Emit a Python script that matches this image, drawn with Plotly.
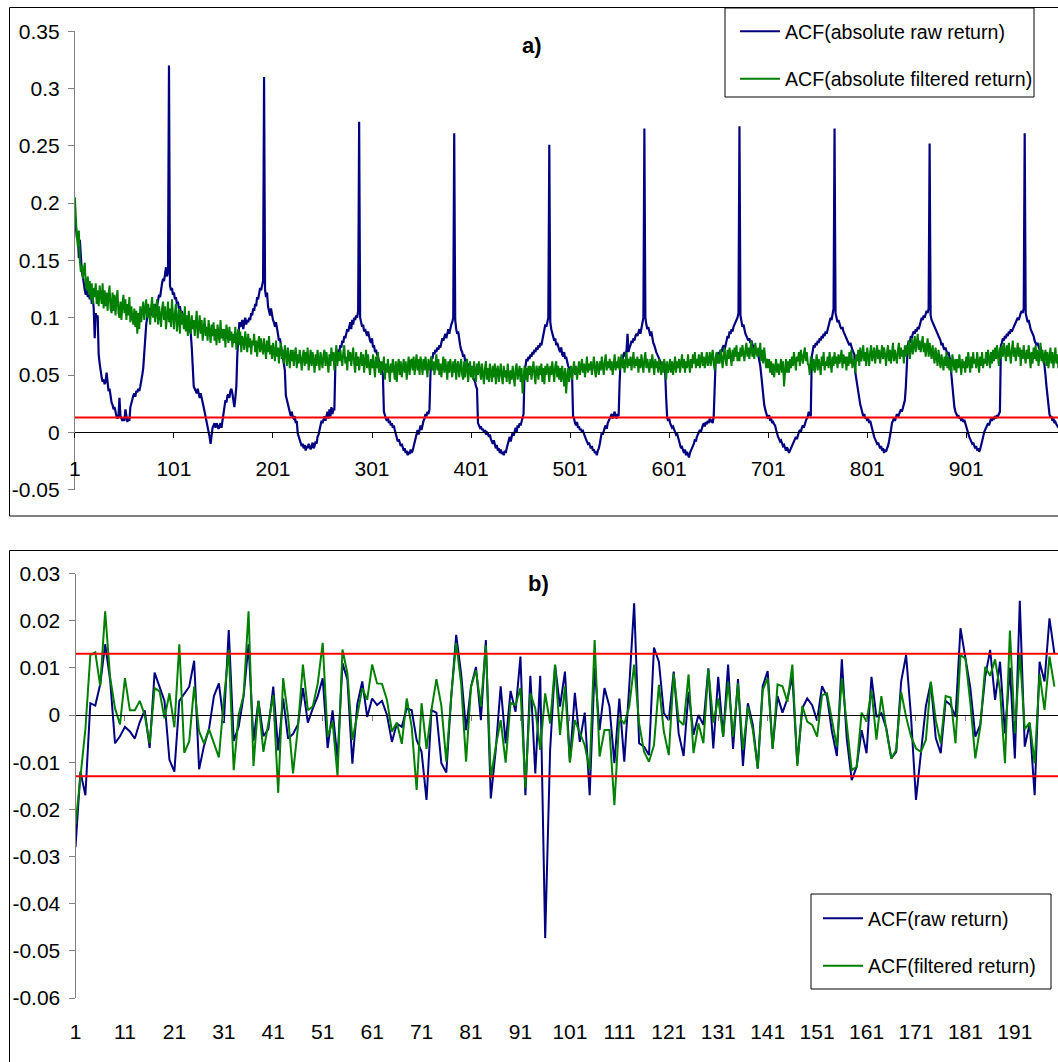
import plotly.graph_objects as go

# ---------------- panel a) : ACF of absolute returns, lags 1..994 (values in 1/1000) -------------
abs_raw_milli = [
    # lags 1-96
    188,178,170,172,152,168,150,140,136,128,
    124,120,126,118,122,116,128,112,118,108,
    82,104,100,102,
    68,60,52,48,44,46,
    42,44,52,40,36,38,30,26,24,20,
    22,16,14,12,14,30,14,12,10,13,
    10,20,12,9,12,10,22,26,30,32,
    34,31,36,35,38,36,40,44,50,56,
    70,86,94,100,104,108,106,102,110,104,
    108,112,106,110,114,120,118,126,130,134,
    132,138,144,136,140,320,
    # lags 97-192
    128,124,126,120,122,116,118,112,114,108,
    110,104,106,100,102,98,96,100,92,94,
    90,86,74,56,40,38,
    36,34,38,32,30,34,28,26,22,18,
    13,10,6,2,-4,-10,-2,4,6,8,
    4,8,6,3,5,8,4,10,20,24,
    28,26,32,33,30,36,38,34,26,22,
    30,40,68,84,
    96,92,94,98,90,96,100,94,98,96,
    100,98,104,102,108,106,112,110,118,116,
    122,126,124,128,132,310,
    # lags 193-288
    124,118,122,110,106,102,108,100,98,96,
    92,96,88,86,80,82,76,70,66,58,
    54,32,28,24,22,16,14,18,13,12,
    14,8,10,-1,-4,-6,-8,-12,-10,-14,
    -11,-16,-12,-14,-10,-13,-15,-12,-9,-14,
    -12,-8,-10,-4,-2,2,6,10,8,12,
    14,10,16,18,12,20,14,22,16,20,
    20,60,
    68,64,72,70,76,74,80,78,84,82,
    86,90,88,92,96,90,98,94,100,98,
    102,100,106,271,
    # lags 289-384
    100,96,92,94,88,90,86,84,88,82,
    80,78,82,74,76,70,72,68,66,62,
    58,60,54,50,18,
    14,12,10,13,8,10,6,8,4,6,
    2,-2,-4,-8,-6,-10,-12,-10,-14,-16,
    -14,-18,-16,-20,-17,-19,-15,-18,-16,-12,
    -8,-4,0,2,-2,4,6,2,8,10,
    12,16,14,18,16,20,
    50,
    66,64,70,68,72,70,74,72,76,74,
    78,82,80,84,86,82,88,90,86,92,
    94,96,100,261,
    # lags 385-480
    98,90,86,88,80,76,72,70,66,68,
    62,64,58,60,56,54,52,50,48,46,
    44,40,38,8,
    6,4,5,2,3,0,2,-2,0,-1,-4,-2,
    -6,-8,-10,-7,-12,-14,-11,-16,-14,-18,-15,-19,-17,-20,-16,-18,-14,
    -10,-6,-4,-8,-2,0,-3,2,4,0,6,4,8,6,
    10,14,16,
    52,
    60,64,62,66,64,68,66,70,68,72,70,74,72,76,74,78,76,80,
    86,90,94,92,98,100,
    251,
    # lags 481-576
    96,90,86,84,80,82,76,78,74,72,
    70,74,68,66,70,64,66,60,58,56,
    54,52,50,
    14,12,
    8,6,9,4,5,2,3,0,1,-2,-4,
    -6,-8,-10,-9,-12,-14,-12,-16,-15,-18,-17,-20,-16,-14,-10,
    -4,0,-2,2,4,6,3,8,10,12,
    14,16,12,15,18,14,12,16,14,
    44,
    62,66,64,68,70,66,72,86,70,74,
    76,80,78,82,80,84,86,84,88,90,86,92,
    96,100,
    265,
    # lags 577-672
    100,94,90,92,86,84,88,80,78,76,
    72,70,68,66,64,62,60,58,56,54,
    52,30,
    13,10,12,8,6,4,5,2,0,-2,-1,-4,
    -8,-12,-14,-13,-16,-18,-15,-20,-17,-19,-22,-18,-16,-14,
    -12,-10,-6,-8,-4,-2,0,2,0,4,
    6,8,5,9,7,10,8,12,9,10,8,14,
    44,
    64,68,66,70,68,72,70,74,76,72,78,
    80,84,82,88,86,90,88,92,94,96,98,100,
    104,267,
    # lags 673-768
    102,96,92,94,88,86,84,82,80,82,
    78,80,76,74,76,72,70,72,68,64,
    58,50,40,30,24,20,
    16,14,12,15,10,12,8,9,7,6,
    2,-2,-4,-6,-8,-7,-10,-12,-11,-14,-16,-13,-15,-18,-16,-14,-12,-10,
    -8,-6,-4,-6,-2,0,2,0,4,6,4,8,10,12,14,18,16,14,
    66,
    72,76,74,78,76,80,78,82,80,84,82,86,84,88,86,90,
    94,96,100,98,104,108,
    265,
    # lags 769-864
    104,100,96,98,94,92,90,92,88,86,
    84,82,80,78,76,78,74,72,70,68,
    52,46,40,34,28,24,21,
    16,14,16,12,13,10,12,8,10,6,
    2,-2,-4,-6,-8,-10,-9,-12,-14,-12,-16,-14,-18,-15,-17,-14,-12,-8,-4,2,
    8,10,12,10,14,16,13,16,18,20,18,22,24,
    28,40,60,
    76,80,78,84,82,86,88,86,90,88,92,90,93,
    96,100,98,102,100,104,106,104,108,
    252,
    # lags 865-960
    102,98,96,94,92,90,88,86,84,82,
    80,76,78,74,72,74,70,68,70,66,
    62,50,40,30,22,18,
    16,14,15,12,13,10,12,9,11,8,
    4,0,-2,-4,-6,-8,-10,-9,-12,-14,-12,-16,-14,-17,-15,-12,-8,-4,
    0,2,4,6,8,6,10,12,10,13,12,14,12,15,14,16,18,
    76,
    78,82,80,84,82,86,84,88,86,90,88,90,92,94,96,
    98,100,98,102,104,106,104,108,
    261,
    # lags 961-994
    104,100,96,98,92,90,88,86,84,
    80,78,76,78,74,72,74,70,68,66,
    60,50,40,30,24,
    16,13,14,10,12,8,9,7,5,4,
]

abs_filt_milli = [
    205,184,170,162,176,150,140,146,134,142, 148,128,124,136,120,132,116,130,112,126,
    118,130,112,124,110,128,118,112,130,108, 124,110,122,106,120,128,108,104,122,106,
    120,102,116,124,104,100,114,98,112,120, 104,116,98,112,102,118,96,110,100,94,
    108,92,106,86,104,90,110,96,106,114, 98,110,116,100,112,104,94,110,118,100,
    112,96,106,116,94,110,102,92,108,114, 98,110,90,104,114,96,108,92,116,102,
    90,104,112,88,100,108,86,106,94,104, 90,110,88,102,84,106,92,86,102,90,
    98,84,96,106,82,94,102,86,98,80, 94,100,84,92,80,98,88,78,94,84,
    96,80,90,76,94,86,78,98,82,90, 80,90,74,94,84,78,92,80,88,74,
    86,78,92,72,84,90,76,88,70,84, 80,72,88,78,70,86,74,82,68,80,
    76,86,70,80,66,78,84,70,82,74, 68,82,74,64,80,70,84,68,76,64,
    78,70,62,80,66,74,60,72,78,64, 72,60,76,68,58,74,66,56,72,62,
    72,58,68,74,56,68,60,72,64,54, 66,72,58,70,60,74,54,66,72,58,
    70,62,52,68,58,72,62,54,70,60, 56,68,72,58,70,62,52,68,58,74,
    62,70,54,66,76,58,70,62,72,64, 58,70,76,60,66,54,72,62,70,58,
    66,74,60,52,70,58,66,54,62,70, 58,68,52,64,72,56,68,58,50,64,
    56,68,60,48,66,56,70,52,62,50, 62,54,66,46,60,52,64,54,44,60,
    52,64,56,46,62,44,58,64,50,62, 48,58,64,52,62,46,58,66,50,62,
    64,54,66,50,60,68,54,64,50,66, 60,50,64,54,66,58,48,64,54,60,
    66,54,62,50,60,68,54,64,50,60, 48,62,66,52,64,56,46,62,52,64,
    58,48,62,52,64,46,58,62,48,58, 64,50,46,62,48,58,64,44,54,62,
    48,58,46,62,54,44,60,50,62,52, 46,60,50,42,56,62,46,56,44,60,
    52,44,58,48,60,42,54,58,44,54, 60,48,42,58,48,54,44,60,50,42,
    54,46,58,50,40,56,60,46,52,58, 44,56,34,52,58,46,56,44,58,50,
    58,46,54,62,50,42,58,54,46,58, 50,60,44,56,42,58,50,60,54,44,
    58,50,62,54,44,58,62,48,58,46, 56,44,58,50,40,56,34,48,56,44,
    52,58,46,56,62,50,58,46,54,62, 50,58,64,52,60,48,58,66,52,60,
    54,62,50,58,66,54,48,62,58,50, 62,54,66,58,50,62,68,54,62,56,
    64,54,62,50,58,68,54,62,56,66, 54,62,68,56,64,52,60,70,56,64,
    58,66,54,62,70,56,64,58,66,52, 64,56,68,60,52,64,70,56,64,58,
    52,64,56,68,60,50,64,56,62,52, 64,56,50,62,52,64,58,46,62,52,
    56,64,52,62,50,58,66,52,62,56, 64,52,60,68,56,64,52,62,56,68,
    60,52,64,56,68,60,70,56,64,58, 68,56,64,70,58,66,56,64,70,58,
    62,70,58,66,72,60,54,66,70,60, 68,60,72,64,56,68,74,62,58,72,
    64,74,66,58,72,62,74,66,76,62, 70,62,74,66,76,68,62,72,78,66,
    74,64,72,80,66,74,64,78,70,66, 74,66,78,62,72,60,74,66,56,64,
    56,64,52,62,50,60,48,56,64,52, 60,50,58,64,52,62,40,56,64,52,
    62,52,64,56,66,58,70,62,54,66, 62,70,58,72,64,60,68,74,62,70,
    60,58,50,66,58,54,64,52,60,68, 54,64,58,50,66,58,70,54,62,58,
    66,56,70,60,52,66,58,70,60,66, 56,68,60,64,72,56,68,60,66,54,
    66,58,70,60,72,56,64,62,52,68, 62,72,58,74,62,68,76,62,70,58,
    74,66,58,70,76,62,70,74,60,70, 76,64,72,60,70,76,64,74,68,58,
    70,76,62,72,60,70,78,62,72,66, 60,72,78,64,74,66,72,60,76,66,
    76,68,80,64,74,82,68,76,84,70, 78,86,72,80,70,78,84,70,78,66,
    76,82,66,78,70,64,76,68,60,74, 66,58,72,62,56,68,60,54,66,58,
    70,56,66,54,64,52,68,60,54,64, 52,64,56,68,60,50,64,56,62,52,
    66,56,70,60,52,66,56,70,60,64, 56,70,60,52,66,58,70,56,64,60,
    70,58,72,64,56,70,60,72,62,74, 64,76,66,58,74,64,76,66,78,70,
    62,76,66,78,70,60,72,80,66,74, 62,72,78,66,74,58,72,64,76,66,
    60,72,64,76,68,56,70,60,74,64, 76,62,72,58,68,78,62,72,60,68,
    72,58,70,56,66,74,60,70,56,66, 74,60,68,56,
]

# ---------------- panel b) : ACF of returns, lags 1..199 ----------------
acf_raw = [
    -0.028, -0.012, -0.017, 0.0025, 0.002, 0.0065, 0.015, 0.0075, -0.006, -0.0045,
    -0.0025, -0.0035, -0.005, -0.0015, 0.001, -0.007, 0.009, 0.006, 0.003, -0.0095,
    -0.012, 0.003, 0.0045, 0.006, 0.0115, -0.0115, -0.0065, -0.003, 0.004, 0.0067,
    -0.0017, 0.018, -0.0055, -0.0025, 0.004, 0.015, -0.0055, 0.003, -0.0045, -0.003,
    0.006, -0.0075, 0.0035, -0.005, -0.004, -0.002, 0.0057, -0.0016, 0.0014, 0.004,
    0.0078, -0.007, 0.001, -0.0094, 0.011, 0.0075, -0.0103, 0.0023, 0.0071, -0.0004,
    0.0035, 0.0021, 0.003, 0.0, -0.0057, -0.0018, -0.0025, 0.0014, 0.001, -0.0053,
    -0.0078, -0.018, 0.001, 0.0005, -0.0102, -0.0122, 0.0039, 0.017, 0.0088, -0.0032,
    0.006, 0.0102, -0.0011, 0.0159, -0.0177, -0.0074, 0.0061, -0.006, 0.0051, 0.0007,
    0.0124, -0.017, 0.0083, -0.0124, 0.0083, -0.0473, -0.0074, 0.0106, 0.0018, 0.0092,
    -0.0099, 0.0047, -0.0057, 0.0005, -0.017, 0.010, -0.0032, 0.0057, 0.0018, -0.0102,
    0.0035, -0.0099, 0.006, 0.0237, -0.006, -0.0067, -0.0085, 0.0143, 0.0113, 0.0004,
    -0.0011, 0.0092, -0.0039, -0.0087, 0.0049, -0.0042, 0.0, -0.0021, 0.0099, -0.0071,
    0.0081, -0.0046, 0.0107, -0.0072, 0.0076, -0.0108, 0.0025, -0.0021, -0.0113, 0.0061,
    0.0093, -0.0071, 0.004, 0.0005, 0.0035, 0.0081, -0.0104, 0.0014, 0.0035, 0.0021,
    -0.0012, 0.0061, 0.0039, -0.0035, -0.0087, 0.0118, -0.005, -0.0138, -0.011, -0.0032,
    -0.0081, 0.0081, -0.0004, 0.0004, -0.0028, -0.0092, -0.0078, 0.0071, 0.0127, -0.0004,
    -0.018, -0.0074, 0.0019, 0.0069, -0.0049, -0.0081, 0.003, 0.0021, -0.0004, 0.0184,
    0.012, 0.0057, -0.0046, -0.0021, 0.0081, 0.0138, 0.0032, 0.0113, -0.0039, 0.010,
    -0.0092, 0.0242, -0.0067, -0.0018, -0.017, 0.0113, 0.0071, 0.0205, 0.013,
]
acf_filt = [
    -0.0233, -0.0124, -0.003, 0.0127, 0.0133, 0.0062, 0.022, 0.008, 0.0014, -0.002,
    0.0078, 0.001, 0.001, 0.003, 0.0, -0.006, 0.0057, 0.005, -0.0007, 0.0046,
    -0.0026, 0.015, -0.008, -0.0056, 0.006, -0.0035, -0.006, -0.003, -0.006, -0.009,
    0.003, 0.0138, -0.0117, 0.0, 0.0042, 0.022, -0.0108, 0.003, -0.0078, -0.002,
    0.0042, -0.0165, 0.0078, -0.0004, -0.0124, -0.0025, 0.0107, 0.001, 0.0018, 0.0067,
    0.0153, -0.0046, -0.0014, -0.0129, 0.0139, 0.0088, -0.0053, 0.0, 0.0057, 0.0032,
    0.0107, 0.0067, 0.0066, 0.0032, -0.0035, -0.0016, -0.0061, 0.0035, -0.0025, -0.0159,
    0.0025, -0.0072, 0.0011, 0.0076, 0.002, -0.0099, 0.004, 0.0153, 0.0067, -0.0099,
    0.006, 0.0095, 0.0018, 0.0148, -0.0134, -0.0067, -0.0011, -0.0101, 0.0026, 0.0021,
    0.0057, -0.0155, 0.0046, 0.0014, -0.0074, 0.0046, -0.0018, 0.0107, -0.0042, 0.0061,
    -0.0101, -0.0011, -0.0039, -0.0064, -0.0117, 0.0159, -0.0088, -0.0032, -0.0032, -0.0191,
    -0.0005, -0.0019, 0.0018, 0.0107, -0.0018, -0.0078, -0.0099, -0.0064, 0.0064, -0.0035,
    -0.0085, 0.0088, -0.0011, -0.0021, 0.0086, -0.0081, -0.0018, -0.006, 0.0097, -0.0016,
    0.0035, -0.0046, 0.0071, -0.0046, 0.0067, -0.0074, 0.0018, -0.0032, -0.0114, 0.0053,
    0.0078, -0.0072, 0.0065, 0.0061, 0.0028, 0.0107, -0.0108, 0.0019, -0.0014, -0.0021,
    -0.0046, 0.0042, 0.0046, -0.0011, -0.0067, 0.0078, -0.0018, -0.0117, -0.011, 0.0005,
    -0.0014, 0.0052, -0.0052, 0.004, -0.0032, -0.0092, -0.0074, 0.0049, -0.0004, -0.0046,
    -0.0071, -0.0078, -0.0053, 0.0071, -0.0011, -0.006, 0.004, 0.0037, -0.006, 0.0127,
    0.012, 0.0025, -0.0092, -0.0025, 0.0102, 0.0083, 0.0118, 0.0053, -0.0102, 0.0179,
    -0.0039, 0.0132, -0.003, -0.0016, -0.0102, 0.0087, 0.0011, 0.0124, 0.006,
]

ticks_a = [1, 101, 201, 301, 401, 501, 601, 701, 801, 901]
ticks_b = [1, 11, 21, 31, 41, 51, 61, 71, 81, 91, 101, 111, 121, 131, 141, 151, 161, 171, 181, 191]
yticks_a = [-0.05, 0, 0.05, 0.1, 0.15, 0.2, 0.25, 0.3, 0.35]
ylabels_a = ["-0.05", "0", "0.05", "0.1", "0.15", "0.2", "0.25", "0.3", "0.35"]
yticks_b = [-0.06, -0.05, -0.04, -0.03, -0.02, -0.01, 0, 0.01, 0.02, 0.03]
ylabels_b = ["-0.06", "-0.05", "-0.04", "-0.03", "-0.02", "-0.01", "0", "0.01", "0.02", "0.03"]
band = 0.013  # approx 2/sqrt(N) significance band

# ---------------- figure ----------------
W, H = 1058, 1062
FONT = "Liberation Sans, Arial, sans-serif"
NAVY, GREEN, RED = "#000080", "#008000", "#FF0000"
AXGRAY = "#808080"


def py(p):
    return 1 - p / H


def px(p):
    return p / W


lags_a = list(range(1, len(abs_raw_milli) + 1))
lags_af = list(range(1, len(abs_filt_milli) + 1))
lags_b = list(range(1, len(acf_raw) + 1))

fig = go.Figure()
fig.add_trace(go.Scatter(x=lags_a, y=[v / 1000 for v in abs_raw_milli], mode="lines",
                         line=dict(color=NAVY, width=2.2), name="ACF(absolute raw return)",
                         legend="legend", legendgroup="a1", xaxis="x", yaxis="y"))
fig.add_trace(go.Scatter(x=lags_af, y=[v / 1000 for v in abs_filt_milli], mode="lines",
                         line=dict(color=GREEN, width=2), name="ACF(absolute filtered return)",
                         legend="legend", legendgroup="a2", xaxis="x", yaxis="y"))
fig.add_trace(go.Scatter(x=[1, lags_a[-1]], y=[band, band], mode="lines",
                         line=dict(color=RED, width=2), showlegend=False, xaxis="x", yaxis="y"))

fig.add_trace(go.Scatter(x=lags_b, y=acf_raw, mode="lines",
                         line=dict(color=NAVY, width=2), name="ACF(raw return)",
                         legend="legend2", legendgroup="b1", xaxis="x2", yaxis="y2"))
fig.add_trace(go.Scatter(x=lags_b, y=acf_filt, mode="lines",
                         line=dict(color=GREEN, width=2), name="ACF(filtered return)",
                         legend="legend2", legendgroup="b2", xaxis="x2", yaxis="y2"))
fig.add_trace(go.Scatter(x=[1, 200], y=[band, band], mode="lines",
                         line=dict(color=RED, width=2), showlegend=False, xaxis="x3", yaxis="y2"))
fig.add_trace(go.Scatter(x=[1, 200], y=[-band, -band], mode="lines",
                         line=dict(color=RED, width=2), showlegend=False, xaxis="x3", yaxis="y2"))

tickfont = dict(family=FONT, size=21, color="black")
legfont = dict(family=FONT, size=19.6, color="black")

fig.update_layout(
    width=W, height=H, autosize=False,
    margin=dict(l=0, r=0, t=0, b=0, pad=0, autoexpand=False),
    paper_bgcolor="white", plot_bgcolor="rgba(0,0,0,0)",
    font=dict(family=FONT, size=20, color="black"),
    showlegend=True,
    hovermode=False,
    xaxis=dict(domain=[px(74.9), 1], range=[1, 1 + (W - 74.9) / 0.9904],
               anchor="free", position=py(432.3), automargin=False,
               showline=True, linecolor="black", linewidth=1,
               ticks="outside", ticklen=5, tickcolor="black",
               tickvals=ticks_a, ticktext=[str(t) for t in ticks_a],
               tickfont=tickfont, ticklabelstandoff=12,
               showgrid=False, zeroline=False),
    yaxis=dict(domain=[py(489.6), py(31.2)], range=[-0.05, 0.35], anchor="x",
               automargin=False,
               showline=True, linecolor=AXGRAY, linewidth=1,
               ticks="outside", ticklen=6, tickcolor=AXGRAY,
               tickvals=yticks_a, ticktext=ylabels_a, tickfont=tickfont,
               ticklabelstandoff=4,
               showgrid=False, zeroline=False),
    xaxis2=dict(domain=[px(75.5), 1], range=[1, 1 + (W - 75.5) / 4.944],
                anchor="y2", automargin=False, showline=False, ticks="",
                tickvals=ticks_b, ticktext=[str(t) for t in ticks_b],
                tickfont=tickfont, ticklabelstandoff=19,
                showgrid=False, zeroline=False),
    xaxis3=dict(overlaying="x2", matches="x2", anchor="free", position=py(715),
                automargin=False,
                showline=True, linecolor="black", linewidth=1,
                ticks="outside", ticklen=5, tickcolor=AXGRAY,
                tickvals=ticks_b, showticklabels=False,
                showgrid=False, zeroline=False),
    yaxis2=dict(domain=[py(998), py(573.5)], range=[-0.06, 0.03], anchor="x2",
                automargin=False,
                showline=True, linecolor=AXGRAY, linewidth=1,
                ticks="outside", ticklen=6, tickcolor=AXGRAY,
                tickvals=yticks_b, ticktext=ylabels_b, tickfont=tickfont,
                ticklabelstandoff=4,
                showgrid=False, zeroline=False),
    legend=dict(x=px(735), y=py(12), xanchor="left", yanchor="top",
                bgcolor="rgba(0,0,0,0)", borderwidth=0,
                font=legfont, tracegroupgap=19, itemwidth=40),
    legend2=dict(x=px(818), y=py(899), xanchor="left", yanchor="top",
                 bgcolor="rgba(0,0,0,0)", borderwidth=0,
                 font=legfont, tracegroupgap=19, itemwidth=40),
    shapes=[
        # outer chart-area frames
        dict(type="rect", xref="paper", yref="paper", x0=px(9.5), x1=1.02,
             y0=py(516), y1=py(7.5), line=dict(color="black", width=1),
             fillcolor="rgba(0,0,0,0)", layer="below"),
        dict(type="rect", xref="paper", yref="paper", x0=px(9.5), x1=1.02,
             y0=-0.02, y1=py(550.5), line=dict(color="black", width=1),
             fillcolor="rgba(0,0,0,0)", layer="below"),
        # legend boxes
        dict(type="rect", xref="paper", yref="paper", x0=px(725), x1=px(1034),
             y0=py(97), y1=py(8), line=dict(color="black", width=1),
             fillcolor="white", layer="above"),
        dict(type="rect", xref="paper", yref="paper", x0=px(811), x1=px(1051),
             y0=py(989), y1=py(894), line=dict(color="black", width=1),
             fillcolor="white", layer="above"),
    ],
    annotations=[
        dict(text="<b>a)</b>", xref="paper", yref="paper", x=px(532), y=py(45),
             showarrow=False, xanchor="center", yanchor="middle",
             font=dict(family=FONT, size=22, color="black")),
        dict(text="<b>b)</b>", xref="paper", yref="paper", x=px(538), y=py(583),
             showarrow=False, xanchor="center", yanchor="middle",
             font=dict(family=FONT, size=22, color="black")),
    ],
)

fig.write_html("out.html")
